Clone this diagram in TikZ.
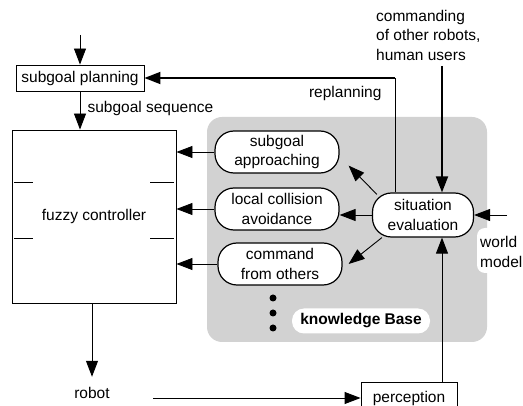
\documentclass[tikz,border=0pt]{standalone}
\usepackage{fontspec}
\setmainfont{Liberation Sans}
\usetikzlibrary{arrows.meta}

\begin{document}
\begin{tikzpicture}[x=1pt,y=-1pt,
	font=\fontsize{15.5}{19.5}\selectfont,
	box/.style={draw,line width=0.9pt,inner sep=0pt},
	rbox/.style={draw,line width=1.2pt,rectangle,rounded corners=19pt,fill=white,align=center,
		minimum width=124pt,minimum height=42pt,inner sep=2pt},
	arr/.style={-{Triangle[length=16pt,width=12pt]},line width=0.9pt},
	thickarr/.style={arr,line width=1.8pt}]
	\useasboundingbox (0,0) rectangle (523,406);
	
	% Knowledge base
	\fill[gray!35,rounded corners=15pt] (207,117) rectangle (487,342);
	\fill[white,rounded corners=8pt] (477,228) rectangle (500,273);  % world model notch
	\node[fill=white,rounded corners=12pt,minimum width=138pt,minimum height=25pt,
		font=\fontsize{15.5}{19.5}\selectfont\bfseries] (kb) at (361,321) {knowledge Base};
	\foreach \y in {298,313,328}
		\fill (273,\y) circle (3.5pt);  % more behaviours
	
	% Blocks
	\node[box,minimum width=128pt,minimum height=26pt] (plan) at (80,78) {subgoal planning};
	\node[box,minimum width=164pt,minimum height=173pt] (fuzzy) at (94,216.5) {fuzzy controller};
	\node[box,minimum width=96pt,minimum height=32pt] (percep) at (409,398) {perception};
	\foreach \y in {182,238} {
		\draw[line width=0.9pt] (14,\y) -- (33,\y);
		\draw[line width=0.9pt] (150,\y) -- (174,\y);
	}
	
	% Behaviours
	\node[rbox] (appr) at (277,152) {subgoal\\approaching};
	\node[rbox] (coll) at (277,209) {local collision\\avoidance};
	\node[rbox] (cmdo) at (280,264) {command\\from others};
	\node[rbox,minimum width=101pt,minimum height=44pt] (situ) at (423,215) {situation\\evaluation};
	
	% Labels
	\node[anchor=west] (seq) at (84,108) {subgoal sequence};
	\node[anchor=east] (repl) at (385,93) {replanning};
	\node[anchor=north west,align=left,inner sep=0pt] (cmd) at (376,10) {commanding\\of other robots,\\human users};
	\node[anchor=west,align=left,inner sep=0pt] (world) at (480,252) {world\\model};
	\node (robot) at (92,393) {robot};
	
	% Connectors
	\coordinate (plantop) at (80,35);
	\coordinate (wm) at (507,215);
	\coordinate (sx) at (442,0);
	\coordinate (rp) at (395,0);
	\draw[arr] (plantop) -- (plan.north);
	\draw[arr] (plan.south) -- (plan.south |- fuzzy.north);
	\draw[arr] (fuzzy.south -| robot) -- ([yshift=7pt]robot.north);
	\draw[arr,shorten <=40pt] (robot.east |- percep.west) -- (percep.west);
	\draw[arr] (percep.north -| sx) -- (situ.south -| sx);
	\draw[thickarr,shorten <=5pt] (cmd.south -| sx) -- (situ.north -| sx);
	\draw[arr] (wm) -- (situ.east);
	\draw[line width=0.9pt] (situ.north -| rp) -- (rp |- plan.east);  % replanning
	\draw[thickarr] (rp |- plan.east) -- (plan.east);
	\foreach \n in {appr,coll,cmdo}
		\draw[arr] (\n.west) -- (\n.west -| fuzzy.east);
	\draw[arr] ([xshift=5pt,yshift=-2pt]situ.north west) -- ([xshift=9pt,yshift=8pt]appr.south east);
	\draw[arr] (situ.west) -- (situ.west -| coll.east);
	\draw[arr] ([xshift=10pt]situ.south west) -- ([xshift=6pt]cmdo.east);
\end{tikzpicture}
\end{document}
